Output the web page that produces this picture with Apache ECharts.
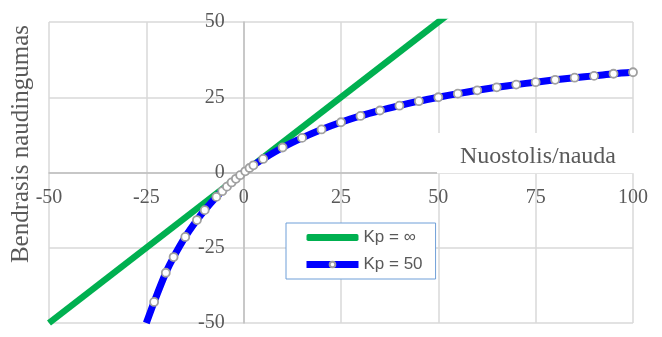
<!DOCTYPE html>
<html>
<head>
<meta charset="utf-8">
<script src="https://cdn.jsdelivr.net/npm/echarts@6/dist/echarts.min.js"></script>
<style>
html,body{margin:0;padding:0;background:#fff;}
#chart{width:662px;height:337px;}
</style>
</head>
<body>
<div id="chart"></div>
<script>
// data
var xTicks = [-50, -25, 0, 25, 50, 75, 100];
var yTicks = [-50, -25, 0, 25, 50];
var kpInfX = [-50, 100];
var kpInfY = [-50, 100];
var kp50X = [-25, -23, -20, -18, -15, -12, -10, -7, -5.5, -4.3, -3.1, -2, -0.9, 0.4, 1.5, 2.5,
  5, 10, 15, 20, 25, 30, 35, 40, 45, 50, 55, 60, 65, 70, 75, 80, 85, 90, 95, 100];
var kp50Y = [-50, -43, -33.3, -28.1, -21.4, -15.8, -12.5, -8.1, -6.2, -4.7, -3.3, -2.1, -0.9, 0.4, 1.5, 2.4,
  4.5, 8.3, 11.5, 14.3, 16.7, 18.8, 20.6, 22.2, 23.7, 25, 26.2, 27.3, 28.3, 29.2, 30, 30.8, 31.5, 32.1, 32.8, 33.3];

var myChart = echarts.init(document.getElementById('chart'));

var W = 662, H = 337;
var gl = 49, gr = 29, gt = 22, gb = 14;
var xMin = xTicks[0], xMax = xTicks[xTicks.length - 1];
var yMin = yTicks[0], yMax = yTicks[yTicks.length - 1];
// move the axes onto the zero lines (labels follow the offset)
var xOff = -((H - gt - gb) * (0 - yMin) / (yMax - yMin));
var yOff = -((W - gl - gr) * (0 - xMin) / (xMax - xMin));

var greenData = kpInfX.map(function(v, i){ return [v, kpInfY[i]]; });
var blueData = kp50X.map(function(v, i){
  var item = {value: [v, kp50Y[i]]};
  if (kp50Y[i] <= -50) item.symbol = 'none';
  return item;
});

var labelFont = {color: '#595959', fontFamily: 'Liberation Serif', fontSize: 20};
var gridLine = {show: true, lineStyle: {color: '#d9d9d9', width: 1.5}};

var option = {
  animation: false,
  grid: {left: gl, right: gr, top: gt, bottom: gb, containLabel: false, outerBoundsMode: 'none'},
  legend: {
    orient: 'vertical',
    left: 286,
    top: 223,
    padding: [6, 13, 6, 17],
    itemGap: 10,
    itemWidth: 52,
    itemHeight: 7,
    backgroundColor: '#fff',
    borderColor: '#6f9fd8',
    borderWidth: 1,
    textStyle: {color: '#595959', fontFamily: 'Liberation Sans', fontSize: 17},
    data: [
      {name: 'Kp = ∞', icon: 'roundRect'},
      {name: 'Kp = 50', lineStyle: {width: 7}}
    ]
  },
  xAxis: {
    type: 'value',
    min: xMin,
    max: xMax,
    interval: 25,
    position: 'bottom',
    offset: xOff,
    axisLine: {show: true, onZero: false, lineStyle: {color: '#bfbfbf', width: 1.5}},
    axisTick: {show: false},
    axisLabel: Object.assign({margin: 15, showMinLabel: true, showMaxLabel: true}, labelFont),
    splitLine: gridLine
  },
  yAxis: {
    type: 'value',
    min: yMin,
    max: yMax,
    interval: 25,
    position: 'left',
    offset: yOff,
    axisLine: {show: true, onZero: false, lineStyle: {color: '#bfbfbf', width: 1.5}},
    axisTick: {show: false},
    axisLabel: Object.assign({margin: 19}, labelFont),
    splitLine: gridLine
  },
  series: [{
    name: 'Kp = ∞',
    type: 'line',
    data: greenData,
    symbol: 'none',
    lineStyle: {color: '#00b050', width: 6.5},
    itemStyle: {color: '#00b050'},
    z: 2
  }, {
    name: 'Kp = 50',
    type: 'line',
    data: blueData,
    smooth: 0.3,
    showAllSymbol: true,
    symbol: 'circle',
    symbolSize: 8,
    lineStyle: {color: '#0000ff', width: 7},
    itemStyle: {color: '#ffffff', borderColor: '#a0a0a0', borderWidth: 1.8},
    z: 3
  }],
  graphic: [{
    type: 'rect',
    z: 100,
    shape: {x: 437, y: 133, width: 197, height: 40.5},
    style: {fill: '#ffffff'}
  }, {
    type: 'text',
    z: 101,
    x: 538,
    y: 157,
    style: {text: 'Nuostolis/nauda', fill: '#595959', font: '24px "Liberation Serif"', align: 'center', verticalAlign: 'middle'}
  }, {
    type: 'text',
    z: 101,
    x: 21,
    y: 144,
    rotation: Math.PI / 2,
    style: {text: 'Bendrasis naudingumas', fill: '#595959', font: '25px "Liberation Serif"', align: 'center', verticalAlign: 'middle'}
  }]
};

myChart.setOption(option);
</script>
</body>
</html>
